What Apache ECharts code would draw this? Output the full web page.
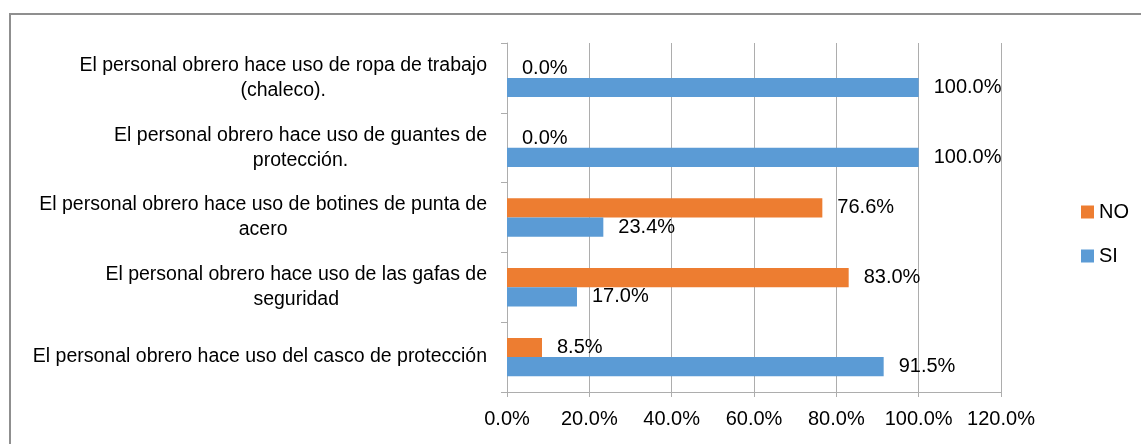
<!DOCTYPE html>
<html lang="es">
<head>
    <meta charset="UTF-8">
    <title>Uso de EPP - personal obrero</title>
    <script src="https://cdn.jsdelivr.net/npm/echarts@6/dist/echarts.min.js"></script>
    <style>
        html, body { margin: 0; padding: 0; background: #fff; }
        #frame { position: absolute; left: 9px; top: 13px; width: 1140px; height: 440px;
                 border-left: 2px solid #8f8f8f; border-top: 2px solid #8f8f8f; }
        #main { position: absolute; left: 0; top: 0; width: 1141px; height: 444px; }
    </style>
</head>
<body>
    <div id="frame"></div>
    <div id="main"></div>
    <script type="text/javascript">
      // categorias (de abajo hacia arriba, como en el grafico)
      var categorias = [
        'El personal obrero hace uso del casco de protección',
        'El personal obrero hace uso de las gafas de\nseguridad',
        'El personal obrero hace uso de botines de punta de\nacero',
        'El personal obrero hace uso de guantes de\nprotección.',
        'El personal obrero hace uso de ropa de trabajo\n(chaleco).'
      ];
      var valoresSI = [91.5, 17.0, 23.4, 100.0, 100.0];
      var valoresNO = [8.5, 83.0, 76.6, 0.0, 0.0];
      var ejeMin = 0, ejeMax = 120, ejePaso = 20;

      var fuente = '"Liberation Sans", Arial, sans-serif';
      var gris = '#adadad';

      var myChart = echarts.init(document.getElementById('main'));

      function etiqueta(p) {
        return p.value.toFixed(1) + '%';
      }

      var option = {
        animation: false,
        textStyle: { fontFamily: fuente },
        grid: { left: 507, right: 140, top: 43, bottom: 52 },
        legend: {
          data: ['NO', 'SI'],
          orient: 'vertical',
          left: 1076,
          top: 197,
          icon: 'rect',
          itemWidth: 13,
          itemHeight: 13,
          itemGap: 24,
          textStyle: { fontSize: 20, color: '#000', fontFamily: fuente }
        },
        xAxis: {
          type: 'value',
          min: ejeMin,
          max: ejeMax,
          interval: ejePaso,
          axisLine: { show: true, lineStyle: { color: gris, width: 1 } },
          axisTick: { show: true, length: 5, lineStyle: { color: gris } },
          splitLine: { show: true, lineStyle: { color: gris, width: 1 } },
          axisLabel: {
            color: '#000', fontSize: 20, fontFamily: fuente, margin: 17,
            formatter: function (v) { return v.toFixed(1) + '%'; }
          }
        },
        yAxis: {
          type: 'category',
          data: categorias,
          axisLine: { show: true, lineStyle: { color: gris, width: 1 } },
          axisTick: { show: true, length: 6, lineStyle: { color: gris } },
          axisLabel: {
            margin: 20,
            formatter: function (v) { return '{c|' + v + '}'; },
            rich: {
              c: { align: 'center', fontSize: 19.5, lineHeight: 25, color: '#000', fontFamily: fuente }
            }
          }
        },
        series: [
          {
            name: 'NO',
            type: 'bar',
            data: valoresNO,
            barGap: '0%',
            barCategoryGap: '45%',
            itemStyle: { color: '#ed7d31' },
            label: { show: true, position: 'right', distance: 15, color: '#000', fontSize: 20, fontFamily: fuente, formatter: etiqueta }
          },
          {
            name: 'SI',
            type: 'bar',
            data: valoresSI,
            barGap: '0%',
            barCategoryGap: '45%',
            itemStyle: { color: '#5b9bd5' },
            label: { show: true, position: 'right', distance: 15, color: '#000', fontSize: 20, fontFamily: fuente, formatter: etiqueta }
          }
        ]
      };
      myChart.setOption(option);
    </script>
</body>
</html>
